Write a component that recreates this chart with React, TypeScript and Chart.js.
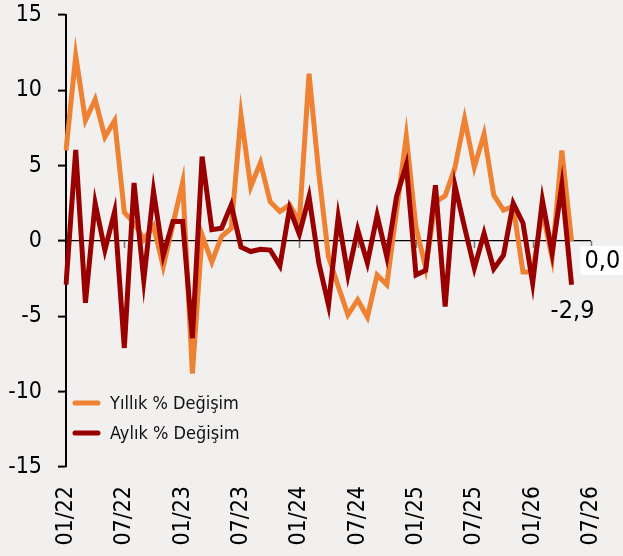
import React, { useEffect, useRef } from "react";
import { Chart, registerables } from "chart.js";

Chart.register(...registerables);

const months = [
  "01/22", "02/22", "03/22", "04/22", "05/22", "06/22", "07/22", "08/22", "09/22", "10/22", "11/22", "12/22",
  "01/23", "02/23", "03/23", "04/23", "05/23", "06/23", "07/23", "08/23", "09/23", "10/23", "11/23", "12/23",
  "01/24", "02/24", "03/24", "04/24", "05/24", "06/24", "07/24", "08/24", "09/24", "10/24", "11/24", "12/24",
  "01/25", "02/25", "03/25", "04/25", "05/25", "06/25", "07/25", "08/25", "09/25", "10/25", "11/25", "12/25",
  "01/26", "02/26", "03/26", "04/26", "05/26", "06/26", "07/26",
];

const yearlyChange = [
  6.0, 12.3, 8.0, 9.4, 6.9, 8.0, 1.9, 1.2, 0.1, 1.0, -1.7, 1.1,
  3.9, -8.8, 0.4, -1.4, 0.3, 0.85, 8.35, 3.6, 5.2, 2.6, 1.95, 2.4,
  1.3, 11.1, 4.5, -1.05, -3.0, -4.9, -3.9, -5.05, -2.25, -2.9, 2.0, 6.95,
  0.9, -1.8, 2.6, 3.0, 4.85, 8.1, 4.9, 7.1, 3.05, 2.05, 2.3, -2.05,
  -2.05, 2.0, -1.1, 6.0, 0.0,
];

const monthlyChange = [
  -2.9, 6.05, -4.1, 2.5, -0.6, 1.95, -7.1, 3.85, -2.6, 3.3, -0.95, 1.3,
  1.3, -6.45, 5.6, 0.75, 0.85, 2.4, -0.4, -0.7, -0.55, -0.6, -1.65, 2.15,
  0.45, 2.95, -1.45, -4.25, 1.6, -2.25, 0.75, -1.45, 1.7, -1.05, 2.95, 5.05,
  -2.25, -1.95, 3.7, -4.35, 3.7, 0.9, -1.8, 0.5, -1.85, -0.95, 2.5, 1.2,
  -2.8, 2.7, -0.8, 3.7, -2.9,
];

const seriesNames = ["Yıllık % Değişim", "Aylık % Değişim"];
const seriesColors = ["#ef8133", "#990000"];
const labelEvery = 6;
const yMin = -15;
const yMax = 15;
const yStep = 5;

const FONT = "'DejaVu Sans Condensed', 'DejaVu Sans', sans-serif";
const BG = "#f2f0ef";

const fmt = (v: number) => v.toFixed(1).replace(".", ",");

const decorPlugin = {
  id: "decor",
  beforeDraw(chart: any) {
    const { ctx, width, height } = chart;
    ctx.save();
    ctx.fillStyle = BG;
    ctx.fillRect(0, 0, width, height);
    ctx.restore();
  },
  beforeDatasetsDraw(chart: any) {
    const { ctx } = chart;
    const xs = chart.scales.x;
    const ys = chart.scales.y;
    const y0 = ys.getPixelForValue(0);
    ctx.save();
    ctx.strokeStyle = "#777";
    ctx.lineWidth = 1.5;
    for (let i = labelEvery; i < months.length; i += labelEvery) {
      const x = Math.round(xs.getPixelForValue(i)) + 0.5;
      ctx.beginPath();
      ctx.moveTo(x, y0);
      ctx.lineTo(x, y0 + 7);
      ctx.stroke();
    }
    ctx.restore();
  },
  afterDatasetsDraw(chart: any) {
    const { ctx, chartArea } = chart;
    const xs = chart.scales.x;
    const ys = chart.scales.y;
    ctx.save();
    const li = yearlyChange.length - 1;
    const ox = xs.getPixelForValue(li);
    const oy = ys.getPixelForValue(yearlyChange[li]);
    const t1 = fmt(yearlyChange[li]);
    ctx.font = `25px ${FONT}`;
    const w1 = ctx.measureText(t1).width;
    ctx.fillStyle = "#ffffff";
    ctx.fillRect(ox + 9, oy + 5, w1 + 10, 29);
    ctx.fillStyle = "#000";
    ctx.textAlign = "left";
    ctx.textBaseline = "middle";
    ctx.fillText(t1, ox + 13, oy + 20);

    const mi = monthlyChange.length - 1;
    const rx = xs.getPixelForValue(mi);
    const ry = ys.getPixelForValue(monthlyChange[mi]);
    ctx.textAlign = "center";
    ctx.fillText(fmt(monthlyChange[mi]), rx + 1, ry + 27);

    const lx = chartArea.left + 9;
    const rows = [chartArea.bottom - 64, chartArea.bottom - 34];
    ctx.font = `18px ${FONT}`;
    ctx.textAlign = "left";
    rows.forEach((ly, k) => {
      ctx.strokeStyle = seriesColors[k];
      ctx.lineWidth = 5;
      ctx.lineCap = "round";
      ctx.beginPath();
      ctx.moveTo(lx, ly);
      ctx.lineTo(lx + 23, ly);
      ctx.stroke();
      ctx.fillStyle = "#111";
      ctx.fillText(seriesNames[k], lx + 35, ly + 1);
    });
    ctx.restore();
  },
};

export default function App() {
  const ref = useRef<HTMLCanvasElement | null>(null);

  useEffect(() => {
    document.body.style.margin = "0";
    document.body.style.background = BG;
    const canvas = ref.current;
    if (!canvas) return;
    const chart = new Chart(canvas, {
      type: "line",
      data: {
        labels: months,
        datasets: [
          {
            label: seriesNames[0],
            data: yearlyChange,
            borderColor: seriesColors[0],
            backgroundColor: seriesColors[0],
            borderWidth: 5,
            pointRadius: 0,
            tension: 0,
            order: 1,
          },
          {
            label: seriesNames[1],
            data: monthlyChange,
            borderColor: seriesColors[1],
            backgroundColor: seriesColors[1],
            borderWidth: 5,
            pointRadius: 0,
            tension: 0,
            order: 0,
          },
        ],
      },
      options: {
        responsive: false,
        animation: false,
        layout: { padding: { left: 0, top: 15, right: 32, bottom: 0 } },
        plugins: {
          legend: { display: false },
          tooltip: { enabled: false },
        },
        scales: {
          x: {
            offset: false,
            grid: { display: false },
            border: { display: false },
            ticks: {
              autoSkip: false,
              maxRotation: 90,
              minRotation: 90,
              padding: 11,
              color: "#000",
              font: { family: FONT, size: 23 },
              callback: (_v: any, i: number) => (i % labelEvery === 0 ? months[i] : null),
            },
            afterFit: (s: any) => {
              s.height = 89;
              s.paddingLeft = 0;
              s.paddingRight = 0;
              s.paddingTop = 0;
              s.paddingBottom = 0;
            },
          },
          y: {
            min: yMin,
            max: yMax,
            border: { display: true, color: "#000", width: 2 },
            grid: {
              color: (c: any) => (c.tick && c.tick.value === 0 ? "#000" : "rgba(0,0,0,0)"),
              lineWidth: 1.2,
              tickColor: "#000",
              tickWidth: 2,
              tickLength: 8,
            },
            ticks: {
              stepSize: yStep,
              padding: 16,
              color: "#000",
              font: { family: FONT, size: 23 },
            },
            afterFit: (s: any) => {
              s.width = 66;
              s.paddingLeft = 0;
              s.paddingRight = 0;
              s.paddingTop = 0;
              s.paddingBottom = 0;
            },
          },
        },
      },
      plugins: [decorPlugin],
    });
    return () => chart.destroy();
  }, []);

  return (
    <div style={{ position: "absolute", left: 0, top: 0, width: 623, height: 556, background: BG }}>
      <canvas ref={ref} width={623} height={556} />
    </div>
  );
}
